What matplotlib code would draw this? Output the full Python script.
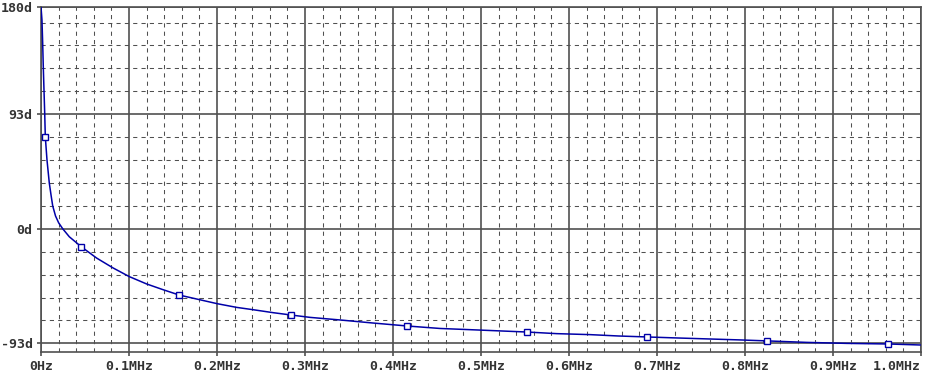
import numpy as np
import matplotlib
matplotlib.use("Agg")
import matplotlib.pyplot as plt

# phase trace (frequency in MHz, phase in degrees)
freq_mhz = [0.0, 0.0011, 0.0019, 0.0026, 0.0034, 0.0042, 0.0049, 0.0068, 0.0094,
            0.0114, 0.0133, 0.0165, 0.0201, 0.0247, 0.0322, 0.0458, 0.0633,
            0.0822, 0.1003, 0.1201, 0.1390, 0.1572, 0.1769, 0.2003, 0.2224,
            0.2413, 0.2640, 0.2844, 0.3057, 0.3398, 0.3776, 0.4163, 0.4534,
            0.4951, 0.5526, 0.5860, 0.6239, 0.6560, 0.6890, 0.7224, 0.7943,
            0.8253, 0.8701, 0.9156, 0.9628, 0.9989]
phase_deg = [180.0, 169.5, 150.8, 131.4, 112.7, 94.1, 74.6, 55.9, 37.3,
             27.4, 18.6, 10.4, 4.8, 0.0, -6.5, -14.6, -23.8,
             -31.9, -38.8, -44.8, -49.5, -53.8, -57.0, -60.8, -63.8,
             -65.7, -68.1, -70.0, -71.9, -74.0, -76.5, -78.9, -80.9,
             -82.1, -83.8, -85.1, -85.9, -87.0, -87.8, -88.6, -90.2,
             -91.0, -92.2, -93.0, -93.5, -94.3]

# marker symbols on the trace
marker_freq = [0.0049, 0.0458, 0.1572, 0.2844, 0.4163, 0.5526, 0.6890, 0.8253, 0.9628]
marker_phase = [74.6, -14.6, -53.8, -70.0, -78.9, -83.8, -87.8, -91.0, -93.5]

x_major = [0.0, 0.1, 0.2, 0.3, 0.4, 0.5, 0.6, 0.7, 0.8, 0.9, 1.0]
x_labels = ["0Hz", "0.1MHz", "0.2MHz", "0.3MHz", "0.4MHz", "0.5MHz",
            "0.6MHz", "0.7MHz", "0.8MHz", "0.9MHz", "1.0MHz"]
y_major = [-93, 0, 93, 180]
y_labels = ["-93d", "0d", "93d", "180d"]

grid_c = "#505050"
text_c = "#333333"
trace_c = "#0000a8"

fig = plt.figure(figsize=(9.27, 3.76), dpi=100)
ax = fig.add_axes([41 / 927, 1 - 352 / 376, 880 / 927, 345 / 376])
ax.set_xlim(0, 1.0)
ax.set_ylim(-100, 180)

# dashed minor grid
for xv in np.arange(0.02, 1.0, 0.02):
    if abs(xv * 10 - round(xv * 10)) > 1e-6:
        ax.axvline(xv, color=grid_c, lw=0.75, ls=(0, (4, 4)), zorder=1)
for k in range(-5, 10):
    yv = 18.6 * k
    if k % 5 != 0 and -100 < yv < 180:
        ax.axhline(yv, color=grid_c, lw=0.75, ls=(0, (4, 4)), zorder=1)

# solid major grid
for xv in x_major:
    ax.axvline(xv, color=grid_c, lw=1.2, zorder=1.5)
for yv in y_major:
    ax.axhline(yv, color=grid_c, lw=1.2, zorder=1.5)

ax.plot(freq_mhz, phase_deg, color=trace_c, lw=1.1, zorder=3)
ax.plot(marker_freq, marker_phase, ls="none", marker="s", ms=5,
        mfc="white", mec=trace_c, mew=1.0, zorder=4)

for side in ["top", "bottom", "left", "right"]:
    ax.spines[side].set_color(grid_c)
    ax.spines[side].set_linewidth(1.2)

font = dict(family="DejaVu Sans Mono", weight="bold", size=9.5)
ax.set_xticks(x_major)
ax.set_xticklabels(x_labels, color=text_c, **font)
ax.get_xticklabels()[-1].set_horizontalalignment("right")
ax.set_yticks(y_major)
ax.set_yticklabels(y_labels, color=text_c, **font)
ax.tick_params(axis="both", length=3, width=1.2, color=grid_c, pad=3)

fig.savefig("out.png", dpi=100, facecolor="white")
